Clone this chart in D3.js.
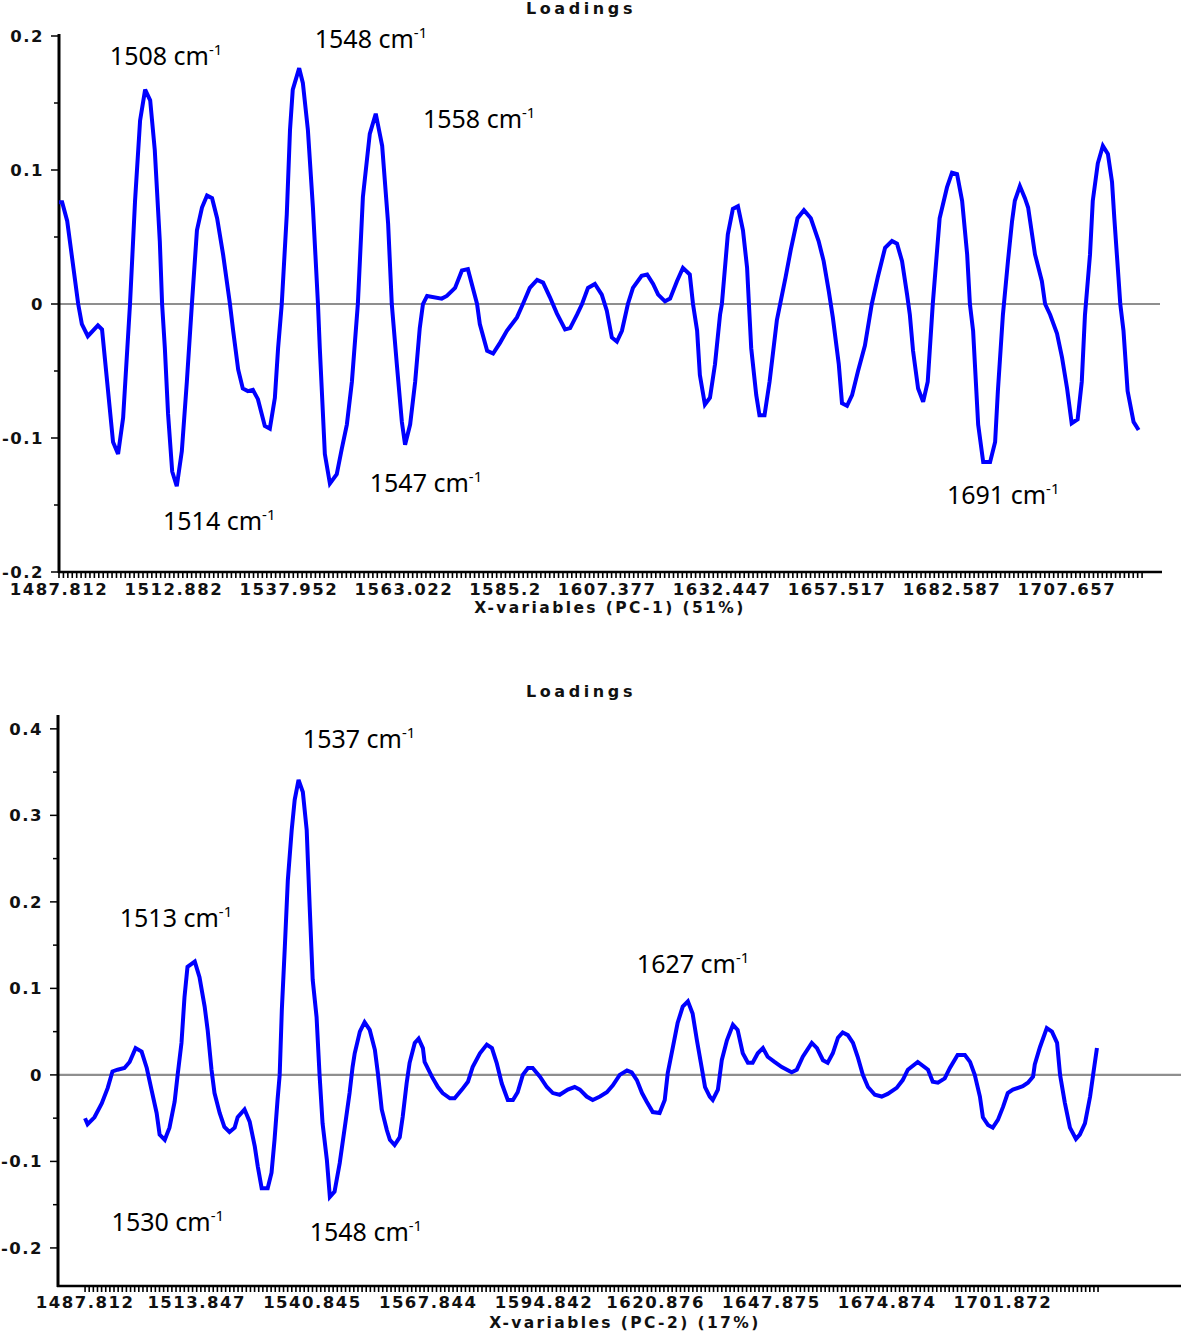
<!DOCTYPE html>
<html>
<head>
<meta charset="utf-8">
<script src="https://cdn.jsdelivr.net/npm/d3@7"></script>
<style>
  html, body { margin: 0; padding: 0; background: #fff; }
  svg { display: block; }
  .tick-label { font-family: "DejaVu Sans", sans-serif; font-weight: bold; font-size: 16.5px; letter-spacing: 1.5px; fill: #111; }
  .axis-title { font-family: "DejaVu Sans", sans-serif; font-weight: bold; font-size: 15.5px; letter-spacing: 2.4px; fill: #111; }
  .chart-title { font-family: "DejaVu Sans", sans-serif; font-weight: bold; font-size: 16px; letter-spacing: 3.6px; fill: #111; }
  .peak { font-family: "Noto Sans", "Open Sans", sans-serif; font-size: 25px; fill: #000; }
</style>
</head>
<body>
<svg id="chart" width="1181" height="1333"></svg>
<script>
// ---------------- DATA ----------------
// PC-1 loadings
const pc1Wavenumber = [1487.8,1488.5,1489.6,1492.0,1492.8,1494.1,1496.3,1497.2,1499.6,1500.7,1501.8,1503.3,1504.4,1505.5,1506.6,1507.7,1508.7,1509.8,1510.3,1510.9,1511.6,1512.5,1513.5,1514.6,1515.7,1516.8,1517.9,1519.0,1520.1,1521.2,1522.3,1523.6,1525.1,1525.8,1526.9,1527.9,1529.0,1530.1,1531.2,1532.7,1533.8,1534.9,1535.6,1536.4,1537.5,1538.2,1538.8,1540.2,1541.0,1542.1,1543.2,1544.3,1544.7,1545.8,1546.9,1548.4,1549.5,1550.6,1551.7,1553.0,1554.1,1555.6,1556.9,1558.3,1559.6,1560.4,1561.5,1562.6,1563.3,1564.4,1565.5,1566.5,1567.2,1568.1,1571.3,1572.4,1574.2,1575.7,1577.0,1579.0,1579.6,1581.2,1582.5,1584.0,1585.5,1587.7,1589.0,1590.5,1592.1,1593.4,1594.9,1596.4,1598.2,1599.3,1600.8,1601.9,1603.2,1604.7,1606.2,1607.3,1608.4,1609.5,1610.6,1611.9,1613.0,1614.9,1616.1,1617.4,1618.5,1620.0,1621.1,1622.6,1623.9,1625.4,1626.1,1627.0,1627.6,1628.7,1629.8,1630.9,1632.0,1632.4,1633.7,1634.8,1635.9,1637.0,1637.9,1638.3,1638.8,1639.9,1640.6,1641.7,1642.8,1644.4,1646.3,1647.4,1648.9,1650.3,1651.8,1653.5,1654.6,1655.7,1656.6,1657.9,1658.6,1659.7,1660.8,1662.1,1663.6,1665.1,1666.4,1668.0,1669.5,1670.6,1671.7,1672.8,1673.4,1674.1,1675.2,1676.3,1677.3,1678.4,1679.9,1681.5,1682.6,1683.7,1684.8,1685.9,1686.5,1687.2,1688.3,1689.4,1690.9,1692.0,1692.6,1693.7,1694.8,1695.7,1696.3,1697.4,1698.5,1699.2,1700.7,1702.2,1702.9,1704.0,1705.5,1706.6,1707.7,1708.7,1710.0,1710.9,1711.6,1712.7,1713.3,1714.4,1715.5,1716.6,1717.5,1718.0,1718.9,1719.3,1720.0,1720.9,1722.2,1723.3];
const pc1Loading = [0.076,0.076,0.062,0.0,-0.015,-0.024,-0.016,-0.019,-0.103,-0.112,-0.085,0.0,0.077,0.137,0.160,0.152,0.115,0.047,0.0,-0.033,-0.082,-0.125,-0.136,-0.110,-0.058,0.0,0.055,0.072,0.081,0.079,0.064,0.037,0.0,-0.020,-0.049,-0.063,-0.065,-0.064,-0.071,-0.091,-0.093,-0.070,-0.033,0.0,0.067,0.130,0.160,0.176,0.165,0.130,0.072,0.0,-0.033,-0.112,-0.134,-0.127,-0.108,-0.090,-0.058,0.0,0.080,0.127,0.142,0.118,0.060,0.0,-0.045,-0.088,-0.105,-0.090,-0.058,-0.018,0.0,0.006,0.004,0.006,0.012,0.025,0.026,0.0,-0.015,-0.035,-0.037,-0.029,-0.020,-0.010,0.0,0.012,0.018,0.016,0.005,-0.007,-0.019,-0.018,-0.008,0.0,0.012,0.015,0.007,-0.005,-0.025,-0.028,-0.020,0.0,0.012,0.021,0.022,0.015,0.007,0.002,0.004,0.017,0.027,0.022,0.0,-0.020,-0.053,-0.075,-0.070,-0.045,-0.008,0.0,0.052,0.071,0.073,0.055,0.027,0.0,-0.033,-0.068,-0.083,-0.083,-0.058,-0.012,0.020,0.040,0.064,0.070,0.064,0.047,0.032,0.010,-0.010,-0.045,-0.074,-0.076,-0.068,-0.050,-0.031,0.0,0.020,0.042,0.047,0.045,0.032,0.007,-0.008,-0.035,-0.063,-0.073,-0.058,0.0,0.064,0.087,0.098,0.097,0.077,0.037,0.0,-0.020,-0.090,-0.118,-0.118,-0.103,-0.065,-0.008,0.032,0.062,0.077,0.088,0.079,0.072,0.037,0.017,0.0,-0.008,-0.022,-0.040,-0.063,-0.089,-0.086,-0.058,-0.008,0.037,0.077,0.105,0.118,0.112,0.091,0.064,0.020,0.0,-0.020,-0.065,-0.088,-0.094];

// PC-2 loadings
const pc2Wavenumber = [1487.8,1488.4,1490.0,1491.7,1493.1,1494.2,1495.4,1497.0,1498.2,1499.6,1501.0,1502.2,1503.3,1504.5,1505.2,1506.4,1507.5,1508.7,1509.4,1510.3,1511.0,1511.7,1513.4,1514.5,1515.7,1516.4,1517.3,1518.0,1519.2,1520.3,1521.5,1522.7,1523.4,1525.0,1526.2,1527.4,1528.1,1529.0,1530.4,1531.3,1532.0,1532.7,1533.2,1533.7,1534.4,1535.1,1536.0,1536.7,1537.6,1538.6,1539.5,1540.2,1540.9,1541.8,1542.5,1543.2,1544.2,1544.9,1546.0,1547.2,1548.4,1549.5,1550.2,1550.7,1551.9,1553.0,1554.2,1555.4,1556.1,1557.0,1558.2,1558.9,1560.0,1561.2,1561.9,1562.8,1563.5,1564.7,1565.6,1566.6,1567.0,1568.7,1570.1,1571.2,1572.9,1574.0,1575.7,1577.1,1578.2,1579.9,1581.5,1582.7,1583.8,1585.0,1586.4,1587.6,1588.7,1589.9,1591.1,1592.2,1593.9,1595.5,1596.9,1598.5,1600.4,1602.0,1603.2,1604.8,1606.2,1607.9,1609.5,1610.9,1612.5,1614.2,1615.3,1616.5,1617.7,1618.8,1620.2,1621.8,1623.0,1623.7,1624.9,1626.0,1627.2,1628.4,1629.5,1630.5,1631.6,1632.4,1633.5,1634.2,1635.4,1636.3,1637.5,1638.9,1640.0,1641.2,1642.4,1643.5,1644.7,1645.9,1647.0,1648.6,1650.3,1652.6,1653.8,1655.2,1657.3,1658.5,1659.9,1661.0,1662.2,1663.4,1664.5,1665.7,1666.9,1668.0,1669.2,1670.4,1672.0,1673.6,1675.0,1677.1,1678.5,1679.7,1682.0,1684.4,1685.5,1686.7,1688.3,1689.5,1691.3,1693.0,1694.2,1695.3,1696.5,1697.2,1698.4,1699.5,1700.7,1701.9,1703.0,1704.2,1706.5,1707.7,1708.9,1709.3,1710.5,1712.1,1713.3,1714.5,1715.2,1716.3,1717.5,1718.9,1719.8,1721.0,1722.2,1722.9,1723.8];
const pc2Loading = [-0.050,-0.057,-0.049,-0.033,-0.015,0.004,0.006,0.008,0.015,0.031,0.027,0.008,-0.017,-0.044,-0.069,-0.075,-0.061,-0.031,0.0,0.037,0.090,0.125,0.131,0.113,0.079,0.052,0.006,-0.021,-0.044,-0.060,-0.066,-0.061,-0.049,-0.040,-0.054,-0.083,-0.106,-0.131,-0.131,-0.113,-0.075,-0.029,0.0,0.075,0.148,0.225,0.283,0.318,0.341,0.327,0.283,0.194,0.110,0.067,0.0,-0.056,-0.098,-0.141,-0.135,-0.102,-0.060,-0.021,0.009,0.025,0.050,0.061,0.052,0.029,0.002,-0.040,-0.064,-0.075,-0.081,-0.072,-0.048,-0.010,0.014,0.037,0.042,0.031,0.015,-0.002,-0.014,-0.021,-0.027,-0.027,-0.017,-0.008,0.009,0.025,0.035,0.031,0.014,-0.010,-0.029,-0.029,-0.020,0.0,0.008,0.008,-0.002,-0.014,-0.021,-0.023,-0.017,-0.014,-0.017,-0.025,-0.029,-0.025,-0.020,-0.012,0.0,0.005,0.003,-0.006,-0.021,-0.031,-0.043,-0.044,-0.029,0.002,0.032,0.060,0.079,0.085,0.071,0.040,0.009,-0.014,-0.025,-0.029,-0.017,0.017,0.040,0.058,0.052,0.025,0.014,0.014,0.025,0.031,0.021,0.015,0.009,0.003,0.006,0.021,0.037,0.031,0.017,0.014,0.025,0.043,0.049,0.046,0.037,0.021,0.0,-0.014,-0.023,-0.025,-0.022,-0.015,-0.006,0.006,0.015,0.006,-0.008,-0.009,-0.004,0.008,0.023,0.023,0.015,0.0,-0.025,-0.049,-0.058,-0.061,-0.052,-0.037,-0.021,-0.017,-0.013,-0.009,-0.002,0.012,0.032,0.054,0.050,0.037,0.0,-0.032,-0.061,-0.074,-0.069,-0.056,-0.025,0.0,0.031];

// Axis tick labels
const pc1XTicks = [1487.812, 1512.882, 1537.952, 1563.022, 1585.2, 1607.377, 1632.447, 1657.517, 1682.587, 1707.657];
const pc2XTicks = [1487.812, 1513.847, 1540.845, 1567.844, 1594.842, 1620.876, 1647.875, 1674.874, 1701.872];
const pc1YTicks = [-0.2, -0.1, 0, 0.1, 0.2];
const pc2YTicks = [-0.2, -0.1, 0, 0.1, 0.2, 0.3, 0.4];

// Peak annotations: label, wavenumber / loading of label anchor
const pc1Peaks = ["1508", "1548", "1558", "1547", "1514", "1691"];
const pc1PeakW = [1498.9, 1543.6, 1567.2, 1555.6, 1510.5, 1681.5];
const pc1PeakV = [0.178, 0.191, 0.131, -0.140, -0.169, -0.149];
const pc2Peaks = ["1537", "1513", "1627", "1530", "1548"];
const pc2PeakW = [1538.6, 1495.9, 1616.5, 1494.0, 1540.2];
const pc2PeakV = [0.378, 0.171, 0.118, -0.181, -0.192];

const variableStep = 0.96426; // spacing of X-variables (cm-1)

// ---------------- DRAW ----------------
const svg = d3.select("#chart");

function drawPanel(cfg) {
  const g = svg.append("g");
  const x = d3.scaleLinear().domain(cfg.xDomain).range(cfg.xRange);
  const y = d3.scaleLinear().domain(cfg.yDomain).range(cfg.yRange);
  const yBottom = cfg.yRange[0];
  const xLeft = cfg.xRange[0], xRight = cfg.xRange[1];

  // title
  g.append("text").attr("class", "chart-title")
    .attr("x", cfg.titleX).attr("y", cfg.titleY)
    .attr("text-anchor", "middle").text("Loadings");

  // zero line
  g.append("line")
    .attr("x1", xLeft).attr("x2", cfg.zeroEnd)
    .attr("y1", y(0)).attr("y2", y(0))
    .attr("stroke", "#8f8f8f").attr("stroke-width", 2.2);

  // y axis
  const yMinor = d3.range(-0.2, cfg.yDomain[1] + 1e-9, 0.05);
  const ya = g.append("g").attr("transform", `translate(${xLeft},0)`);
  ya.selectAll(".ytick").data(yMinor).enter().append("line")
    .attr("x1", d => Math.abs(Math.round(d * 20) % 2) === 0 ? -8 : -5)
    .attr("x2", 0)
    .attr("y1", d => y(d)).attr("y2", d => y(d))
    .attr("stroke", "#000").attr("stroke-width", 1.5);
  ya.append("line").attr("x1", 0).attr("x2", 0)
    .attr("y1", cfg.yAxisTop).attr("y2", yBottom + 1)
    .attr("stroke", "#000").attr("stroke-width", 3);
  ya.selectAll(".ylab").data(cfg.yTicks).enter().append("text")
    .attr("class", "tick-label")
    .attr("x", -15).attr("y", d => y(d))
    .attr("dy", "0.36em")
    .attr("text-anchor", "end")
    .text(d => d === 0 ? "0" : d3.format(".1f")(d).replace("\u2212", "-"));

  // x axis
  const xa = g.append("g").attr("transform", `translate(0,${yBottom})`);
  xa.append("line").attr("x1", xLeft - 1).attr("x2", xRight)
    .attr("y1", 0).attr("y2", 0).attr("stroke", "#000").attr("stroke-width", 2.5);
  const minor = d3.range(0, cfg.nVars).map(i => 1487.812 + i * variableStep);
  xa.selectAll(".xtick").data(minor).enter().append("line")
    .attr("x1", d => x(d)).attr("x2", d => x(d))
    .attr("y1", 0).attr("y2", 6)
    .attr("stroke", "#000").attr("stroke-width", 1.6);
  xa.selectAll(".xlab").data(cfg.xTicks).enter().append("text")
    .attr("class", "tick-label")
    .attr("x", d => x(d)).attr("y", cfg.xLabelDy)
    .attr("text-anchor", "middle")
    .text(d => String(d));
  g.append("text").attr("class", "axis-title")
    .attr("x", cfg.axisTitleX).attr("y", cfg.axisTitleY)
    .attr("text-anchor", "middle").text(cfg.axisTitle);

  // curve
  const pts = cfg.w.map((w, i) => [w, cfg.v[i]]);
  g.append("path").datum(pts)
    .attr("fill", "none").attr("stroke", "#0000ff").attr("stroke-width", 4)
    .attr("stroke-linejoin", "miter").attr("stroke-miterlimit", 3)
    .attr("d", d3.line().x(d => x(d[0])).y(d => y(d[1])));

  // peak labels
  cfg.peaks.forEach((p, i) => {
    const t = g.append("text").attr("class", "peak")
      .attr("x", x(cfg.peakW[i])).attr("y", y(cfg.peakV[i]));
    t.append("tspan").text(p + " cm");
    t.append("tspan").attr("dy", -10).attr("font-size", 15).text("-1");
  });
}

drawPanel({
  xDomain: [1487.812, 1728.4], xRange: [59, 1162],
  yDomain: [-0.2, 0.2], yRange: [572, 36], yAxisTop: 34,
  zeroEnd: 1160, nVars: 246,
  yTicks: pc1YTicks, xTicks: pc1XTicks, xLabelDy: 23,
  w: pc1Wavenumber, v: pc1Loading,
  peaks: pc1Peaks, peakW: pc1PeakW, peakV: pc1PeakV,
  titleX: 581, titleY: 14,
  axisTitle: "X-variables (PC-1) (51%)", axisTitleX: 610, axisTitleY: 613
});

drawPanel({
  xDomain: [1481.5, 1743.4], xRange: [58, 1181],
  yDomain: [-0.244, 0.416], yRange: [1286, 715], yAxisTop: 715,
  zeroEnd: 1181, nVars: 246,
  yTicks: pc2YTicks, xTicks: pc2XTicks, xLabelDy: 22,
  w: pc2Wavenumber, v: pc2Loading,
  peaks: pc2Peaks, peakW: pc2PeakW, peakV: pc2PeakV,
  titleX: 581, titleY: 697,
  axisTitle: "X-variables (PC-2) (17%)", axisTitleX: 625, axisTitleY: 1328
});
</script>
</body>
</html>
